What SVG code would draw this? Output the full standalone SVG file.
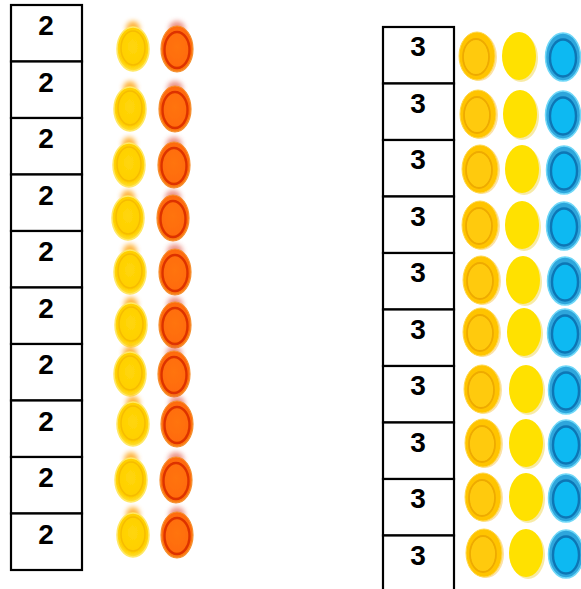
<svg xmlns="http://www.w3.org/2000/svg" width="581" height="589" viewBox="0 0 581 589">
<style>
.box{fill:#fff;stroke:#000;stroke-width:2.2}
.num{font-family:"Liberation Sans",Arial,sans-serif;font-weight:bold;font-size:28px;fill:#000;text-anchor:middle}
</style>
<defs>
<filter id="blur" x="-50%" y="-50%" width="200%" height="200%"><feGaussianBlur stdDeviation="2.5"/></filter>
<filter id="soft" x="-20%" y="-20%" width="140%" height="140%"><feGaussianBlur stdDeviation="0.6"/></filter>
<radialGradient id="gy" cx="0.5" cy="0.45" r="0.55"><stop offset="0" stop-color="#ffd60a"/><stop offset="0.8" stop-color="#ffcf00"/><stop offset="1" stop-color="#ffe23a"/></radialGradient>
<radialGradient id="go" cx="0.5" cy="0.45" r="0.55"><stop offset="0" stop-color="#ff7410"/><stop offset="0.85" stop-color="#ff6a08"/><stop offset="1" stop-color="#f5891a"/></radialGradient>
<g id="capY">
<ellipse cx="0" cy="-20" rx="7" ry="8" fill="#ff9d00" opacity="0.75" filter="url(#blur)"/>
<g filter="url(#soft)">
<ellipse cx="0" cy="0" rx="16" ry="22" fill="url(#gy)" stroke="#ffe866" stroke-width="1.5"/>
<ellipse cx="0" cy="-1" rx="12" ry="17" fill="none" stroke="#f2b400" stroke-width="1.5" opacity="0.7"/>
</g>
</g>
<g id="capO">
<ellipse cx="0" cy="-20" rx="8" ry="8" fill="#e0503a" opacity="0.6" filter="url(#blur)"/>
<g filter="url(#soft)">
<ellipse cx="0" cy="0" rx="16" ry="23" fill="url(#go)" stroke="#f59030" stroke-width="1.2"/>
<ellipse cx="0" cy="1" rx="12.5" ry="18" fill="none" stroke="#dd3300" stroke-width="2.4"/>
</g>
</g>
<g id="capY1" filter="url(#soft)">
<ellipse cx="2" cy="1" rx="18" ry="24" fill="#f3a800" opacity="0.35"/>
<ellipse cx="0" cy="0" rx="18" ry="24" fill="#ffc400" stroke="#ffd84a" stroke-width="1"/>
<ellipse cx="-1" cy="1" rx="13" ry="18" fill="#ffca10" stroke="#eeaa00" stroke-width="1.8"/>
</g>
<g id="capY2" filter="url(#soft)">
<ellipse cx="2" cy="2" rx="17" ry="24" fill="#e8c400" opacity="0.35"/>
<ellipse cx="0" cy="0" rx="17" ry="24" fill="#ffe100"/>
</g>
<g id="capB" filter="url(#soft)">
<ellipse cx="0" cy="0" rx="17.5" ry="24" fill="#2ea6dc" stroke="#6fd8f8" stroke-width="1.5"/>
<ellipse cx="0" cy="1" rx="13" ry="18.5" fill="#10b9f2" stroke="#0c76b5" stroke-width="2.4"/>
</g>
</defs>
<rect width="581" height="589" fill="#fff"/>

<g id="left-column">
<g id="l1"><rect class="box" x="11" y="5" width="71" height="56.5"/><text class="num" x="46" y="35">2</text></g>
<g id="l2"><rect class="box" x="11" y="61.5" width="71" height="56.5"/><text class="num" x="46" y="91.5">2</text></g>
<g id="l3"><rect class="box" x="11" y="118" width="71" height="56.5"/><text class="num" x="46" y="148">2</text></g>
<g id="l4"><rect class="box" x="11" y="174.5" width="71" height="56.5"/><text class="num" x="46" y="204.5">2</text></g>
<g id="l5"><rect class="box" x="11" y="231" width="71" height="56.5"/><text class="num" x="46" y="261">2</text></g>
<g id="l6"><rect class="box" x="11" y="287.5" width="71" height="56.5"/><text class="num" x="46" y="317.5">2</text></g>
<g id="l7"><rect class="box" x="11" y="344" width="71" height="56.5"/><text class="num" x="46" y="374">2</text></g>
<g id="l8"><rect class="box" x="11" y="400.5" width="71" height="56.5"/><text class="num" x="46" y="430.5">2</text></g>
<g id="l9"><rect class="box" x="11" y="457" width="71" height="56.5"/><text class="num" x="46" y="487">2</text></g>
<g id="l10"><rect class="box" x="11" y="513.5" width="71" height="56.5"/><text class="num" x="46" y="543.5">2</text></g>
</g>

<g id="left-caps">
<use href="#capY" x="133" y="49"/><use href="#capO" x="177" y="49"/>
<use href="#capY" x="130" y="109"/><use href="#capO" x="175" y="109"/>
<use href="#capY" x="129" y="165"/><use href="#capO" x="174" y="165"/>
<use href="#capY" x="128" y="218"/><use href="#capO" x="173" y="218"/>
<use href="#capY" x="130" y="272"/><use href="#capO" x="175" y="272"/>
<use href="#capY" x="131" y="325"/><use href="#capO" x="175" y="325"/>
<use href="#capY" x="130" y="374"/><use href="#capO" x="174" y="374"/>
<use href="#capY" x="133" y="424"/><use href="#capO" x="177" y="424"/>
<use href="#capY" x="131" y="480"/><use href="#capO" x="176" y="480"/>
<use href="#capY" x="133" y="535"/><use href="#capO" x="177" y="535"/>
</g>

<g id="right-column">
<g id="r1"><rect class="box" x="383" y="27" width="71" height="56.5"/><text class="num" x="418" y="56">3</text></g>
<g id="r2"><rect class="box" x="383" y="83.5" width="71" height="56.5"/><text class="num" x="418" y="112.5">3</text></g>
<g id="r3"><rect class="box" x="383" y="140" width="71" height="56.5"/><text class="num" x="418" y="169">3</text></g>
<g id="r4"><rect class="box" x="383" y="196.5" width="71" height="56.5"/><text class="num" x="418" y="225.5">3</text></g>
<g id="r5"><rect class="box" x="383" y="253" width="71" height="56.5"/><text class="num" x="418" y="282">3</text></g>
<g id="r6"><rect class="box" x="383" y="309.5" width="71" height="56.5"/><text class="num" x="418" y="338.5">3</text></g>
<g id="r7"><rect class="box" x="383" y="366" width="71" height="56.5"/><text class="num" x="418" y="395">3</text></g>
<g id="r8"><rect class="box" x="383" y="422.5" width="71" height="56.5"/><text class="num" x="418" y="451.5">3</text></g>
<g id="r9"><rect class="box" x="383" y="479" width="71" height="56.5"/><text class="num" x="418" y="508">3</text></g>
<g id="r10"><rect class="box" x="383" y="535.5" width="71" height="56.5"/><text class="num" x="418" y="564.5">3</text></g>
</g>

<g id="right-caps">
<use href="#capY1" x="477" y="56"/><use href="#capY2" x="519" y="56"/><use href="#capB" x="563" y="57"/>
<use href="#capY1" x="478" y="114"/><use href="#capY2" x="520" y="114"/><use href="#capB" x="563" y="115"/>
<use href="#capY1" x="480" y="169"/><use href="#capY2" x="522" y="169"/><use href="#capB" x="564" y="170"/>
<use href="#capY1" x="480" y="225"/><use href="#capY2" x="522" y="225"/><use href="#capB" x="564" y="226"/>
<use href="#capY1" x="481" y="280"/><use href="#capY2" x="523" y="280"/><use href="#capB" x="565" y="281"/>
<use href="#capY1" x="481" y="332"/><use href="#capY2" x="524" y="332"/><use href="#capB" x="565" y="333"/>
<use href="#capY1" x="482" y="389"/><use href="#capY2" x="526" y="389"/><use href="#capB" x="566" y="390"/>
<use href="#capY1" x="483" y="443"/><use href="#capY2" x="526" y="443"/><use href="#capB" x="566" y="444"/>
<use href="#capY1" x="483" y="497"/><use href="#capY2" x="526" y="497"/><use href="#capB" x="566" y="498"/>
<use href="#capY1" x="484" y="553"/><use href="#capY2" x="526" y="553"/><use href="#capB" x="566" y="554"/>
</g>
</svg>
